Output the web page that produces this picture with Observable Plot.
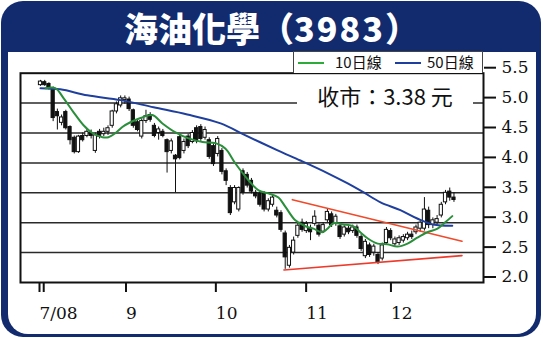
<!DOCTYPE html>
<html><head><meta charset="utf-8">
<script src="https://cdn.jsdelivr.net/npm/d3@7"></script>
<script src="https://cdn.jsdelivr.net/npm/@observablehq/plot@0.6"></script>
<style>
body{margin:0;background:#fff;}
#wrap{position:relative;width:543px;height:338px;overflow:hidden;background:#fff;}
#outer{position:absolute;left:1px;top:1px;width:540px;height:336px;border-radius:22px;background:#112b6e;}
#inner{position:absolute;left:7.5px;top:52px;width:528.5px;height:282px;background:#fff;border-radius:0 0 20px 20px;}
#title{position:absolute;left:0;top:2px;width:543px;height:52px;line-height:52px;text-align:center;color:#fff;
 font-family:"Noto Sans CJK TC","Noto Sans CJK SC",sans-serif;font-weight:900;font-size:34px;}
#title .d{letter-spacing:2px;}
#chart{position:absolute;left:0;top:52px;}
#legend{position:absolute;left:293px;top:51px;width:188px;height:21px;border:1px solid #444;border-bottom:none;background:#fff;
 font-family:"Noto Sans CJK TC",sans-serif;font-size:15px;line-height:21px;color:#111;}
#legend span.sw{position:absolute;top:10px;height:2px;width:26px;}
#legend span.tx{position:absolute;top:-1px;}
#closeLbl{position:absolute;left:297px;top:83px;width:176px;height:25px;background:#fff;text-align:center;
 font-family:"Noto Sans CJK TC",sans-serif;font-size:22px;line-height:25px;color:#111;}
</style></head>
<body>
<div id="wrap">
 <div id="outer"></div>
 <div id="inner"></div>
 <div id="title">海油化學（<span class="d">3983</span>）</div>
 <div id="chart"></div>
 <div id="legend">
  <span class="sw" style="left:4px;background:#2eaa3a"></span><span class="tx" style="left:41px">10日線</span>
  <span class="sw" style="left:101px;background:#1f3f9e"></span><span class="tx" style="left:133px">50日線</span>
 </div>
 <div id="closeLbl">收市：3.38 元</div>
</div>
<script>
// daily candles (index = trading day from 2007/08)
const open  = [5.30,5.35,5.32,5.25,4.85,4.67,4.85,4.60,4.42,4.18,4.45,4.45,4.50,4.20,4.52,4.48,4.52,4.62,4.86,4.96,
5.05,5.06,4.88,4.68,4.44,4.70,4.80,4.62,4.50,4.52,4.38,4.20,4.12,4.43,4.20,4.44,4.35,4.58,4.60,4.42,
4.38,4.28,4.15,4.20,3.86,3.58,3.34,3.22,3.86,3.80,3.70,3.50,3.48,3.48,3.22,3.30,3.20,3.16,2.82,2.28,
2.50,2.78,3.00,2.86,2.90,2.98,2.95,2.85,3.04,3.14,2.98,2.94,2.80,2.90,2.86,2.92,2.76,2.44,2.62,2.50,
2.46,2.40,2.66,2.86,2.64,2.66,2.70,2.74,2.80,2.84,2.90,2.90,3.20,2.96,3.00,3.12,3.34,3.52,3.42];
const close = [5.36,5.30,5.26,4.75,4.78,4.76,4.58,4.38,4.18,4.44,4.38,4.52,4.45,4.46,4.44,4.52,4.58,4.86,4.98,5.08,
5.08,4.90,4.62,4.55,4.70,4.78,4.72,4.45,4.56,4.45,4.18,4.36,4.06,4.08,4.35,4.28,4.50,4.36,4.40,4.55,
4.10,3.98,4.40,3.85,3.70,3.16,3.58,3.58,3.50,3.62,3.52,3.44,3.30,3.22,3.36,3.42,3.12,2.88,2.42,2.58,
2.70,2.95,2.88,2.98,2.84,3.10,2.80,2.96,3.18,2.96,3.10,2.76,2.92,2.84,2.92,2.78,2.56,2.68,2.46,2.60,
2.34,2.62,2.88,2.74,2.72,2.74,2.76,2.80,2.76,2.92,3.00,3.22,2.96,3.04,3.06,3.30,3.50,3.42,3.38];
const high  = [5.38,5.38,5.34,5.27,4.90,4.80,4.88,4.62,4.45,4.46,4.50,4.56,4.55,4.50,4.56,4.58,4.62,4.88,5.02,5.12,
5.12,5.10,4.90,4.72,4.74,4.88,4.84,4.66,4.60,4.56,4.40,4.40,4.14,4.46,4.40,4.48,4.54,4.62,4.64,4.60,
4.42,4.32,4.44,4.24,3.90,3.62,3.62,3.60,3.90,3.84,3.74,3.54,3.52,3.52,3.40,3.46,3.26,3.20,2.86,2.62,
2.76,3.00,3.06,3.02,2.96,3.20,2.98,3.00,3.22,3.18,3.14,2.98,2.95,2.94,2.96,2.96,2.80,2.72,2.66,2.64,
2.50,2.66,2.92,2.90,2.76,2.78,2.80,2.84,2.86,2.96,3.04,3.42,3.26,3.08,3.12,3.34,3.54,3.58,3.50];
const low   = [5.28,5.28,5.22,4.69,4.55,4.62,4.55,4.30,4.15,4.16,4.35,4.42,4.40,4.16,4.40,4.44,4.46,4.58,4.82,4.92,
4.98,4.86,4.58,4.52,4.40,4.66,4.68,4.42,4.38,4.42,3.83,4.15,3.50,4.05,4.15,4.24,4.32,4.32,4.36,4.38,
4.06,3.94,4.10,3.80,3.62,3.12,3.30,3.18,3.46,3.58,3.48,3.40,3.26,3.18,3.18,3.26,3.08,2.84,2.22,2.24,
2.46,2.74,2.84,2.82,2.70,2.94,2.76,2.82,3.00,2.92,2.94,2.72,2.76,2.80,2.82,2.74,2.52,2.40,2.42,2.44,
2.30,2.36,2.62,2.70,2.60,2.62,2.66,2.70,2.72,2.80,2.84,2.86,2.90,2.90,2.96,3.08,3.30,3.36,3.34];

// moving averages (day index, price)
const ma10Day = [1.2,3.5,5.5,7.8,10.2,12.3,14.7,16.1,17.8,19.4,21.3,23.7,26.5,28.9,32.0,35.1,38.4,41.5,43.8,46.2,49.3,51.7,54.0,56.4,58.1,60.4,62.8,64.7,66.8,68.0,69.4,71.8,74.2,75.8,77.5,79.9,82.2,84.6,87.0,89.3,91.7,94.1,96.0,97.6];
const ma10Val = [5.25,5.25,5.08,4.85,4.63,4.50,4.43,4.43,4.50,4.60,4.68,4.75,4.80,4.66,4.51,4.41,4.35,4.33,4.24,3.99,3.71,3.54,3.49,3.42,3.26,3.04,2.94,2.90,2.84,2.90,2.99,2.97,2.94,2.84,2.74,2.65,2.64,2.60,2.65,2.75,2.84,2.90,3.01,3.11];
const ma50Day = [0,4.7,11.1,19.0,26.8,34.8,42.7,48.6,56.2,61.6,68.0,72.7,76.5,80.6,85.3,89.3,93.1,97.6];
const ma50Val = [5.25,5.23,5.13,5.05,4.93,4.81,4.66,4.46,4.21,4.04,3.83,3.66,3.51,3.34,3.21,3.07,2.97,2.95];

// trend lines (day index, price)
const upperDay = [59.7,99.9], upperVal = [3.385,2.69];
const lowerDay = [57.7,99.9], lowerVal = [2.21,2.45];

// axis ticks
const yTicks = [2.0,2.5,3.0,3.5,4.0,4.5,5.0,5.5];
const xTickDay = [0,1,20.5,41.8,63.2,83.3];
const xTickLabel = ["7/08","","9","10","11","12"];

const idx = d3.range(open.length);
const pts = (xs, ys) => xs.map((x, i) => ({x, y: ys[i]}));
const xLab = new Map(xTickDay.map((d, i) => [d, xTickLabel[i]]));
const ink = "#111";

const chart = Plot.plot({
  width: 543, height: 282,
  marginLeft: 20, marginRight: 60, marginTop: 20.7, marginBottom: 52,
  style: {background: "transparent", fontFamily: "DejaVu Serif", color: ink},
  x: {type: "linear", domain: [-4.74, 105], axis: null},
  y: {domain: [2.0, 5.5], axis: null},
  marks: [
    Plot.ruleY(yTicks.slice(1, -1), {stroke: "#2a2a2a", strokeWidth: 1.5}),
    Plot.axisY({anchor: "right", ticks: yTicks, tickSize: 12, tickPadding: 6, strokeWidth: 2, stroke: ink,
      tickFormat: d3.format(".1f"), fontSize: 17, dy: -5.5, fill: ink, label: null}),
    Plot.axisX({anchor: "bottom", ticks: xTickDay, tickSize: 10, tickPadding: 14, strokeWidth: 2, stroke: ink,
      tickFormat: d => xLab.get(d), textAnchor: "start", dx: -1, fontSize: 17, fill: ink, label: null}),
    Plot.ruleX(idx, {x: i => i, y1: i => low[i], y2: i => high[i], stroke: ink, strokeWidth: 1}),
    Plot.rect(idx, {filter: i => close[i] < open[i], x1: i => i - 0.38, x2: i => i + 0.38,
      y1: i => open[i], y2: i => close[i], fill: ink, stroke: ink, strokeWidth: 1}),
    Plot.rect(idx, {filter: i => close[i] >= open[i], x1: i => i - 0.38, x2: i => i + 0.38,
      y1: i => open[i], y2: i => close[i], fill: "white", stroke: ink, strokeWidth: 1}),
    Plot.line(pts(upperDay, upperVal), {x: "x", y: "y", stroke: "#f04a2a", strokeWidth: 1.6}),
    Plot.line(pts(lowerDay, lowerVal), {x: "x", y: "y", stroke: "#ee3a2a", strokeWidth: 1.6}),
    Plot.line(pts(ma50Day, ma50Val), {x: "x", y: "y", stroke: "#1f3f9e", strokeWidth: 2, curve: "catmull-rom"}),
    Plot.line(pts(ma10Day, ma10Val), {x: "x", y: "y", stroke: "#2a8f3a", strokeWidth: 2, curve: "catmull-rom"}),
    Plot.frame({stroke: ink, strokeWidth: 2})
  ]
});
document.getElementById("chart").appendChild(chart);
</script>
</body></html>
